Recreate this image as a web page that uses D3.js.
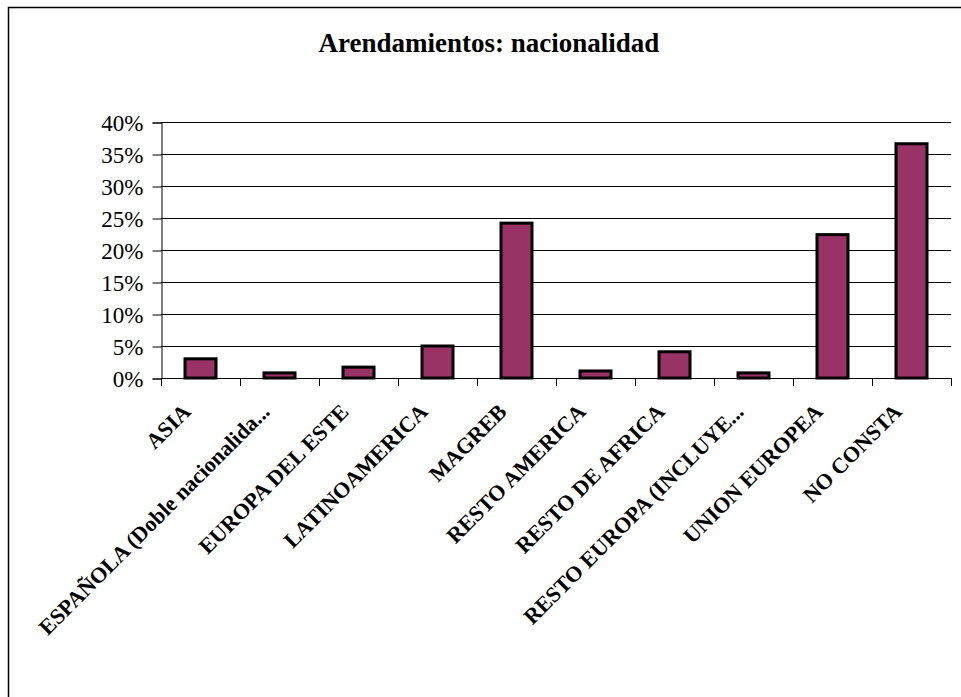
<!DOCTYPE html>
<html>
<head>
<meta charset="utf-8">
<script src="https://cdn.jsdelivr.net/npm/d3@7"></script>
<style>
  html, body { margin: 0; padding: 0; background: #fff; }
  svg { display: block; }
  svg text { font-family: "Liberation Serif", "Times New Roman", Times, "DejaVu Serif", serif; }
</style>
</head>
<body>
<svg id="chart" width="961" height="697"></svg>
<script>
const titleText = "Arendamientos: nacionalidad";
const categories = [
  "ASIA",
  "ESPAÑOLA (Doble nacionalida...",
  "EUROPA DEL ESTE",
  "LATINOAMERICA",
  "MAGREB",
  "RESTO AMERICA",
  "RESTO DE AFRICA",
  "RESTO EUROPA (INCLUYE...",
  "UNION EUROPEA",
  "NO CONSTA"
];
const values = [0.030, 0.008, 0.017, 0.050, 0.242, 0.011, 0.041, 0.008, 0.224, 0.366];
const yTicks = [0, 0.05, 0.10, 0.15, 0.20, 0.25, 0.30, 0.35, 0.40];

const svg = d3.select("#chart");
const W = 961, H = 697;
const plot = { left: 161, right: 951, top: 122, bottom: 378 };

svg.append("rect").attr("width", W).attr("height", H).attr("fill", "#fff");
// outer chart border (extends beyond right/bottom edges)
svg.append("rect")
  .attr("x", 8.5).attr("y", 7.5).attr("width", 1200).attr("height", 1200)
  .attr("fill", "none").attr("stroke", "#000").attr("stroke-width", 1.5);

svg.append("text")
  .attr("x", 489).attr("y", 52)
  .attr("text-anchor", "middle")
  .style("font-weight", "bold")
  .style("font-size", "27px")
  .text(titleText);

const x = d3.scaleBand().domain(categories).range([plot.left, plot.right]).paddingInner(0).paddingOuter(0);
const y = d3.scaleLinear().domain([0, 0.40]).range([plot.bottom, plot.top]);

// gridlines
svg.append("g")
  .selectAll("line")
  .data(yTicks)
  .join("line")
  .attr("x1", plot.left).attr("x2", plot.right)
  .attr("y1", d => Math.round(y(d)) + 0.5).attr("y2", d => Math.round(y(d)) + 0.5)
  .attr("stroke", "#000").attr("stroke-width", 1);

// y axis
const yAxis = d3.axisLeft(y).tickValues(yTicks).tickSize(9).tickPadding(9)
  .tickFormat(d3.format(".0%"));
const gy = svg.append("g").attr("transform", `translate(${plot.left + 0.5},0.5)`).call(yAxis);
gy.attr("font-family", null).attr("font-size", null);
gy.select(".domain").attr("stroke", "#000").attr("stroke-width", 1);
gy.selectAll(".tick line").attr("stroke", "#000");
gy.selectAll(".tick text")
  .style("font-size", "23px")
  .attr("fill", "#000")
  .attr("dy", "0.34em");

// x axis ticks at category boundaries
const boundaries = categories.map(c => x(c)).concat([plot.right]);
svg.append("g")
  .selectAll("line")
  .data(boundaries)
  .join("line")
  .attr("x1", d => Math.round(d) + 0.5).attr("x2", d => Math.round(d) + 0.5)
  .attr("y1", plot.bottom).attr("y2", plot.bottom + 8)
  .attr("stroke", "#000").attr("stroke-width", 1);

// bars
const barW = 31;
svg.append("g")
  .selectAll("rect")
  .data(values)
  .join("rect")
  .attr("x", (d, i) => x(categories[i]) + x.bandwidth() / 2 - barW / 2)
  .attr("y", d => y(d))
  .attr("width", barW)
  .attr("height", d => y(0) - y(d))
  .attr("fill", "#993366")
  .attr("stroke", "#000")
  .attr("stroke-width", 3);

// x labels
svg.append("g")
  .selectAll("text")
  .data(categories)
  .join("text")
  .attr("transform", d => `translate(${x(d) + x.bandwidth() / 2 - 8.5},413) rotate(-45)`)
  .attr("text-anchor", "end")
  .style("font-weight", "bold")
  .style("font-size", "22px")
  .attr("fill", "#000")
  .text(d => d);
</script>
</body>
</html>
